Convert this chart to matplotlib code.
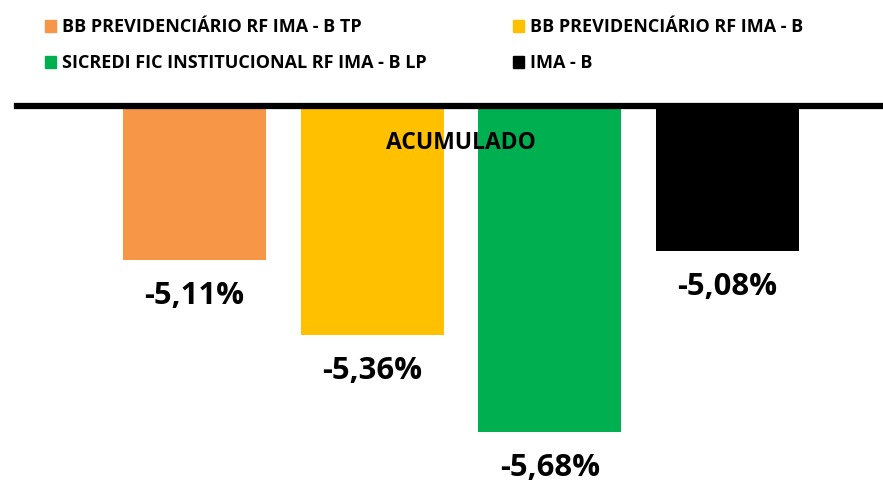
import matplotlib.pyplot as plt
from matplotlib.patches import Patch

plt.rcParams['font.family'] = ['Open Sans', 'DejaVu Sans']
plt.rcParams['font.weight'] = 'bold'

# dados
categoria = 'ACUMULADO'
fundos = ['BB PREVIDENCIÁRIO RF IMA - B TP',
          'BB PREVIDENCIÁRIO RF IMA - B',
          'SICREDI FIC INSTITUCIONAL RF IMA - B LP',
          'IMA - B']
valores = [-5.11, -5.36, -5.68, -5.08]
cores = ['#F79646', '#FFC000', '#00B050', '#000000']

fig = plt.figure(figsize=(8.83, 4.82), dpi=100)
ax = fig.add_axes([17 / 883, 0, 1 - 17 / 883, 1 - 106 / 482])

for i, (nome, v, c) in enumerate(zip(fundos, valores, cores)):
    b = ax.bar(i - 1.5, v, width=0.805, color=c, label=nome)
    ax.bar_label(b, labels=[f'{v:.2f}%'.replace('.', ',')], padding=15,
                 fontsize=22.3, fontweight='bold', color='black')

ax.set_ylim(-5.846, -4.6)
ax.set_xlim(-2.499, 2.375)

ax.set_xticks([0], [categoria])
ax.xaxis.tick_top()
ax.tick_params(axis='x', length=0, pad=-35, labelsize=16.5)
ax.set_yticks([])
for s in ['left', 'right', 'bottom']:
    ax.spines[s].set_visible(False)
ax.spines['top'].set_linewidth(4.5)
ax.spines['top'].set_color('black')

# legenda
ordem = [0, 2, 1, 3]
handles = [Patch(color=cores[k]) for k in ordem]
rotulos = [fundos[k] for k in ordem]
fig.legend(handles, rotulos, ncol=2, loc='upper left',
           bbox_to_anchor=(29 / 883, 1 - 2 / 482), frameon=False,
           fontsize=13, handlelength=0.62, handleheight=0.62,
           handletextpad=0.3, columnspacing=4.8, labelspacing=1.0)

fig.savefig('out.png', dpi=100)
